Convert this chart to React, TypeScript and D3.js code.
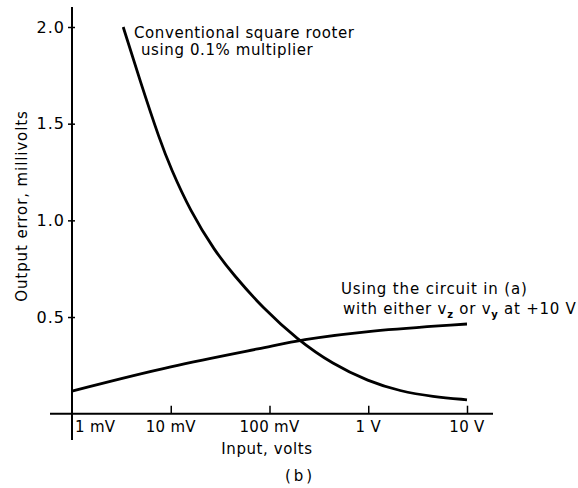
import { useEffect, useRef } from 'react';
import * as d3 from 'd3';

// input in millivolts, output error in millivolts
const xTickValues = [1, 10, 100, 1000, 10000];
const xTickLabels = ['1 mV', '10 mV', '100 mV', '1 V', '10 V'];
const yTickValues = [0.5, 1.0, 1.5, 2.0];
const yTickLabels = ['0.5', '1.0', '1.5', '2.0'];

const conventionalInput = [3.3, 4.9, 7.8, 10, 15.7, 28, 43, 86, 190, 440, 1000, 2100, 4500, 10000];
const conventionalError = [2.0, 1.72, 1.41, 1.27, 1.05, 0.84, 0.72, 0.545, 0.385, 0.255, 0.168, 0.116, 0.088, 0.072];

const circuitInput = [1, 10, 100, 195, 1000, 10000];
const circuitError = [0.117, 0.248, 0.346, 0.38, 0.43, 0.464];

const W = 578;
const H = 488;
const FONT = '"DejaVu Sans", sans-serif';

export default function App() {
  const svgRef = useRef<SVGSVGElement>(null);

  useEffect(() => {
    if (!svgRef.current) return;
    const svg = d3.select(svgRef.current);
    svg.selectAll('*').remove();

    const x = d3.scaleLog().domain([1, 10000]).range([72, 467]);
    const y = d3.scaleLinear().domain([0, 2]).range([413.7, 27]);

    const g = svg.append('g').attr('font-family', FONT).attr('fill', '#000');

    // axis lines, drawn past the data range like the original
    g.append('line')
      .attr('x1', 50).attr('x2', 493)
      .attr('y1', y(0)).attr('y2', y(0))
      .attr('stroke', '#000').attr('stroke-width', 2);
    g.append('line')
      .attr('x1', x(1)).attr('x2', x(1))
      .attr('y1', 7).attr('y2', 440)
      .attr('stroke', '#000').attr('stroke-width', 2);

    // x ticks point up
    const xAxis = d3.axisBottom(x)
      .tickValues(xTickValues.slice(1))
      .tickSizeInner(-8)
      .tickSizeOuter(0)
      .tickFormat(() => '');
    const xg = g.append('g').attr('transform', `translate(0,${y(0)})`).call(xAxis);
    xg.select('.domain').remove();
    xg.selectAll('.tick line').attr('stroke', '#000').attr('stroke-width', 1.5);

    g.selectAll('text.xlab')
      .data(xTickValues)
      .join('text')
      .attr('class', 'xlab')
      .attr('x', (d, i) => (i === 0 ? x(d) + 3 : x(d)))
      .attr('y', 432)
      .attr('text-anchor', (d, i) => (i === 0 ? 'start' : 'middle'))
      .attr('font-size', 15)
      .attr('letter-spacing', 0.3)
      .text((d, i) => xTickLabels[i]);

    // y ticks
    const yAxis = d3.axisLeft(y)
      .tickValues(yTickValues)
      .tickSizeInner(7)
      .tickSizeOuter(0)
      .tickFormat((d, i) => yTickLabels[i]);
    const yg = g.append('g').attr('transform', `translate(${x(1) + 3},0)`).call(yAxis);
    yg.select('.domain').remove();
    yg.selectAll('.tick line').attr('stroke', '#000').attr('stroke-width', 1.5);
    yg.selectAll('.tick text')
      .attr('font-family', FONT)
      .attr('font-size', 16)
      .attr('letter-spacing', 1)
      .attr('fill', '#000')
      .attr('x', -10);

    // curves
    const line = d3.line<[number, number]>()
      .x((d) => x(d[0]))
      .y((d) => y(d[1]))
      .curve(d3.curveBasis);

    g.append('path')
      .datum(conventionalInput.map((v, i) => [v, conventionalError[i]] as [number, number]))
      .attr('d', line)
      .attr('fill', 'none')
      .attr('stroke', '#000')
      .attr('stroke-width', 2.8);

    g.append('path')
      .datum(circuitInput.map((v, i) => [v, circuitError[i]] as [number, number]))
      .attr('d', line)
      .attr('fill', 'none')
      .attr('stroke', '#000')
      .attr('stroke-width', 2.8);

    // annotations
    const note = (tx: number, ty: number) =>
      g.append('text').attr('x', tx).attr('y', ty).attr('font-size', 15).attr('letter-spacing', 0.6);

    note(134, 38).text('Conventional square rooter');
    note(141, 55).text('using 0.1% multiplier');

    note(341, 294).attr('letter-spacing', 0.85).text('Using the circuit in (a)');
    const t2 = note(343, 314).attr('letter-spacing', 0.75);
    t2.append('tspan').text('with either v');
    t2.append('tspan').attr('dy', 4).attr('font-size', 10).attr('font-weight', 'bold').text('z');
    t2.append('tspan').attr('dy', -4).text(' or v');
    t2.append('tspan').attr('dy', 4).attr('font-size', 10).attr('font-weight', 'bold').text('y');
    t2.append('tspan').attr('dy', -4).text(' at +10 V');

    // axis titles
    g.append('text').attr('x', 267).attr('y', 454).attr('text-anchor', 'middle')
      .attr('font-size', 15).attr('letter-spacing', 0.6)
      .text('Input, volts');
    g.append('text')
      .attr('transform', 'translate(27,206) rotate(-90)')
      .attr('text-anchor', 'middle').attr('font-size', 15).attr('letter-spacing', 0.9)
      .text('Output error, millivolts');
    g.append('text').attr('x', 300).attr('y', 481).attr('text-anchor', 'middle')
      .attr('font-size', 15).attr('letter-spacing', 3)
      .text('(b)');
  }, []);

  return (
    <svg
      ref={svgRef}
      width={W}
      height={H}
      style={{ position: 'absolute', left: 0, top: 0, background: '#fff' }}
    />
  );
}
